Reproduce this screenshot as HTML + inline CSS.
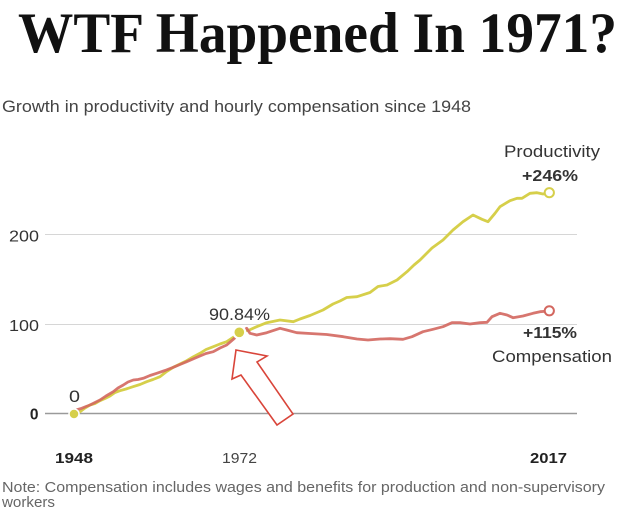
<!DOCTYPE html>
<html>
<head>
<meta charset="utf-8">
<style>
  html,body{margin:0;padding:0;background:#fff;}
  svg{display:block;}
</style>
</head>
<body>
<svg width="632" height="519" viewBox="0 0 632 519" xmlns="http://www.w3.org/2000/svg">
  <rect width="632" height="519" fill="#fff"/>
  <!-- Title -->
  <text x="18" y="52" font-family="Liberation Serif, serif" font-weight="bold" font-size="57" fill="#111" textLength="599" lengthAdjust="spacingAndGlyphs">WTF Happened In 1971?</text>
  <!-- Subtitle -->
  <text x="2" y="112" font-family="Liberation Sans, sans-serif" font-size="16.5" fill="#444" textLength="469" lengthAdjust="spacingAndGlyphs">Growth in productivity and hourly compensation since 1948</text>

  <!-- Gridlines -->
  <line x1="45" y1="234.5" x2="577" y2="234.5" stroke="#d6d6d6" stroke-width="1"/>
  <line x1="45" y1="324.5" x2="577" y2="324.5" stroke="#d6d6d6" stroke-width="1"/>
  <line x1="45" y1="413.5" x2="577" y2="413.5" stroke="#9a9a9a" stroke-width="1.5"/>

  <!-- Y labels -->
  <g font-family="Liberation Sans, sans-serif" font-size="15.5" fill="#333">
    <text x="39" y="241.5" text-anchor="end" textLength="30" lengthAdjust="spacingAndGlyphs">200</text>
    <text x="39" y="331" text-anchor="end" textLength="30" lengthAdjust="spacingAndGlyphs">100</text>
    <text x="38.5" y="419.5" text-anchor="end" font-weight="bold" fill="#222">0</text>
  </g>

  <!-- X labels -->
  <g font-family="Liberation Sans, sans-serif" font-size="15" fill="#222">
    <text x="55" y="463" font-weight="bold" textLength="38" lengthAdjust="spacingAndGlyphs">1948</text>
    <text x="222" y="463" fill="#444" textLength="35" lengthAdjust="spacingAndGlyphs">1972</text>
    <text x="530" y="463" font-weight="bold" textLength="37" lengthAdjust="spacingAndGlyphs">2017</text>
  </g>

  <!-- Note -->
  <g font-family="Liberation Sans, sans-serif" font-size="15" fill="#666">
    <text x="2" y="492" textLength="603" lengthAdjust="spacingAndGlyphs">Note: Compensation includes wages and benefits for production and non-supervisory</text>
    <text x="2" y="507" textLength="53" lengthAdjust="spacingAndGlyphs">workers</text>
  </g>

  <!-- Productivity line -->
  <path d="M74,414 L80,411.7 L85,408 L90,405 L95,403.5 L100,400.7 L105,398.5 L110,396 L115,392.5 L120,390.7 L126,389 L133,386.7 L140,384.5 L146.7,381.7 L153,379.5 L160,376.7 L166,372 L173.3,367.3 L180,364 L186.7,360.7 L193,357 L200,353.3 L206,349.5 L213.3,346.7 L220,344 L226.7,341.7 L233.3,337.3 L239.3,332.3 L249.3,330 L256.7,326.7 L266.7,322.7 L280,320 L293.3,321.7 L300,319 L310,315.5 L323,310 L333,304 L340,301 L346.7,297.5 L357,296.7 L370,292.5 L378,286.5 L387,285 L397,280 L407,271.7 L414,265 L420,260 L426,254 L432,248 L443,240 L453,230 L463,221.7 L473,215 L482,219.3 L488,221.7 L495,213.3 L500,206.7 L510,200.7 L517,198.3 L522,198.3 L530,193.3 L537,192.7 L543,194 L549,192.7"
        fill="none" stroke="#d6cf4a" stroke-width="2.8" stroke-linejoin="round" stroke-linecap="round"/>

  <!-- Compensation line -->
  <path d="M76,410 L81.7,408.3 L86,406.5 L90,405 L95,402.5 L100,400 L106,396 L113.3,391.7 L118,388 L123.3,385 L128,382 L133.3,380 L138,379.5 L143.3,378.3 L150,375.5 L156.7,373.3 L165,370.5 L173.3,367.3 L180,364.5 L186.7,361.7 L193,359 L200,356 L206,353.5 L213.3,351.7 L220,348 L226.7,345 L233.3,339.3 L239,334 L246.7,328.3 L250,333.3 L256.7,335 L266.7,332.7 L280,328.3 L286.7,330 L296.7,332.7 L310,333.5 L326.7,334.5 L343.3,336.7 L357,339 L368,340 L380,339 L390,338.7 L403,339.3 L412,336.7 L423,331.7 L433,329.3 L443,326.7 L452,322.7 L460,322.7 L470,324 L480,322.7 L487,322.3 L492,316.7 L500,313.3 L507,315 L513,317.7 L523,316 L533,313.3 L540,311.7 L549,311"
        fill="none" stroke="#d3675f" stroke-width="2.8" stroke-linejoin="round" stroke-linecap="round" opacity="0.9"/>

  <!-- Points -->
  <circle cx="74" cy="414" r="5" fill="#d6cf4a" stroke="#fff" stroke-width="1.5"/>
  <circle cx="239.3" cy="332.3" r="5" fill="#d6cf4a" stroke="#fff" stroke-width="4"/>
  <circle cx="239.3" cy="332.3" r="4.8" fill="#d6cf4a"/>
  <circle cx="549.3" cy="192.7" r="4.6" fill="#fff" stroke="#d6cf4a" stroke-width="2"/>
  <circle cx="549.3" cy="310.8" r="4.6" fill="#fff" stroke="#d3675f" stroke-width="2"/>

  <!-- Arrow -->
  <polygon points="236,350 267,356 257,362 293,414 277,425 241,375 232,379" fill="#fff" stroke="#d9453a" stroke-width="1.6" stroke-linejoin="miter"/>

  <!-- Annotations -->
  <g font-family="Liberation Sans, sans-serif" fill="#333">
    <text x="69" y="402" font-size="17" textLength="11" lengthAdjust="spacingAndGlyphs">0</text>
    <text x="209" y="320" font-size="17" textLength="61" lengthAdjust="spacingAndGlyphs">90.84%</text>
    <text x="504" y="157" font-size="16.5" textLength="96" lengthAdjust="spacingAndGlyphs">Productivity</text>
    <text x="522" y="181" font-size="16" font-weight="bold" textLength="56" lengthAdjust="spacingAndGlyphs">+246%</text>
    <text x="523" y="338" font-size="16" font-weight="bold" textLength="54" lengthAdjust="spacingAndGlyphs">+115%</text>
    <text x="492" y="362" font-size="16.5" textLength="120" lengthAdjust="spacingAndGlyphs">Compensation</text>
  </g>
</svg>
</body>
</html>
